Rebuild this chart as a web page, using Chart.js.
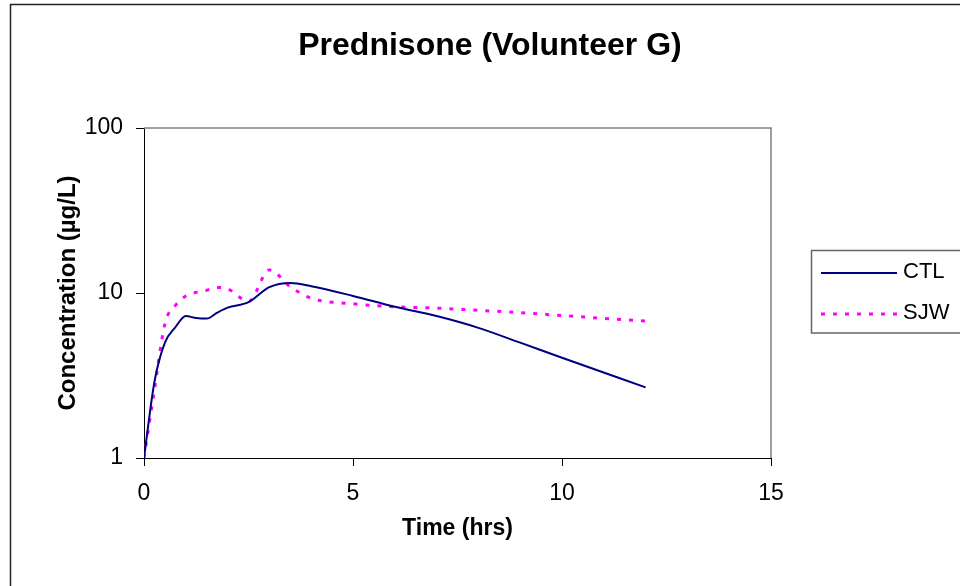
<!DOCTYPE html>
<html>
<head>
<meta charset="utf-8">
<title>Prednisone (Volunteer G)</title>
<script src="https://cdn.jsdelivr.net/npm/chart.js@4.4.1/dist/chart.umd.min.js"></script>
<style>
    body { margin: 0; background: #ffffff; }
    #grafico { display: block; }
</style>
</head>
<body>
<canvas id="grafico" width="960" height="586"></canvas>
<script>
// Datos (tiempo en horas, concentración en µg/L)
const tiempos = [0, 0.25, 0.5, 0.75, 1, 1.25, 1.5, 1.75, 2, 2.5, 3, 3.5, 4, 5, 6, 7, 8, 9, 10, 12];
const concentracionCTL = [1.0, 2.9, 5.0, 6.2, 7.25, 7.05, 7.0, 7.6, 8.15, 8.8, 10.85, 11.5, 11.0, 9.6, 8.25, 7.25, 6.15, 5.0, 4.05, 2.68];
const concentracionSJW = [1.0, 2.6, 6.5, 8.4, 9.6, 10.1, 10.4, 10.8, 10.6, 8.9, 13.8, 10.9, 9.3, 8.6, 8.25, 8.1, 7.85, 7.6, 7.3, 6.75];
const nombresSeries = ['CTL', 'SJW'];
const marcasX = [0, 5, 10, 15];
const marcasY = [1, 10, 100];

const fuente = '"Liberation Sans", Arial, sans-serif';

function armarPuntos(valores) {
    return tiempos.map((t, i) => ({ x: t, y: valores[i] }));
}

// Marco exterior, borde gris del área de trazado y leyenda con recuadro
const marcoPlugin = {
    id: 'marco',
    beforeDraw(chart) {
        const ctx = chart.ctx;
        ctx.save();
        ctx.strokeStyle = '#222222';
        ctx.lineWidth = 1.5;
        ctx.strokeRect(10.5, 4.5, 1200, 1200);
        ctx.restore();
    },
    beforeDatasetsDraw(chart) {
        const { ctx, chartArea } = chart;
        ctx.save();
        ctx.strokeStyle = '#808080';
        ctx.lineWidth = 1.5;
        ctx.beginPath();
        ctx.moveTo(chartArea.left, chartArea.top);
        ctx.lineTo(chartArea.right, chartArea.top);
        ctx.lineTo(chartArea.right, chartArea.bottom);
        ctx.stroke();
        ctx.restore();
    },
    afterDraw(chart) {
        const ctx = chart.ctx;
        ctx.save();
        ctx.strokeStyle = '#666666';
        ctx.lineWidth = 1.5;
        ctx.strokeRect(811.5, 250.5, 300, 82.5);

        chart.data.datasets.forEach((ds, i) => {
            const y = 273 + i * 41;
            ctx.strokeStyle = ds.borderColor;
            ctx.lineWidth = ds.borderWidth;
            ctx.setLineDash(ds.borderDash || []);
            ctx.beginPath();
            ctx.moveTo(821, y);
            ctx.lineTo(897, y);
            ctx.stroke();
            ctx.setLineDash([]);
            ctx.fillStyle = '#000000';
            ctx.font = '22px ' + fuente;
            ctx.textAlign = 'left';
            ctx.textBaseline = 'middle';
            ctx.fillText(ds.label, 903, y - 1);
        });
        ctx.restore();
    }
};

const ctx = document.getElementById('grafico').getContext('2d');

new Chart(ctx, {
    type: 'line',
    data: {
        datasets: [{
            label: nombresSeries[0],
            data: armarPuntos(concentracionCTL),
            borderColor: '#000080',
            borderWidth: 2,
            pointRadius: 0,
            fill: false,
            cubicInterpolationMode: 'monotone'
        }, {
            label: nombresSeries[1],
            data: armarPuntos(concentracionSJW),
            borderColor: '#FF00FF',
            borderWidth: 3,
            borderDash: [4, 8],
            pointRadius: 0,
            fill: false,
            cubicInterpolationMode: 'monotone'
        }]
    },
    options: {
        responsive: false,
        animation: false,
        events: [],
        layout: { padding: { left: 20, right: 0, top: 0, bottom: 0 } },
        plugins: {
            legend: { display: false },
            tooltip: { enabled: false },
            title: {
                display: true,
                text: 'Prednisone (Volunteer G)',
                color: '#000000',
                font: { family: fuente, size: 32, weight: 'bold' },
                padding: { top: 27.3, bottom: 62.3 }
            }
        },
        scales: {
            x: {
                type: 'linear',
                min: 0,
                max: 15,
                afterBuildTicks: (escala) => { escala.ticks = marcasX.map(v => ({ value: v })); },
                afterFit: (escala) => { escala.height = 128; },
                ticks: {
                    color: '#000000',
                    font: { family: fuente, size: 23 },
                    padding: 14,
                    maxRotation: 0,
                    autoSkip: false
                },
                grid: { drawOnChartArea: false, drawTicks: true, tickLength: 8, color: '#000000' },
                border: { color: '#000000', width: 1 },
                title: {
                    display: true,
                    text: 'Time (hrs)',
                    color: '#000000',
                    font: { family: fuente, size: 23, weight: 'bold' },
                    padding: { top: 0, bottom: 44 }
                }
            },
            y: {
                type: 'logarithmic',
                min: 1,
                max: 100,
                afterBuildTicks: (escala) => { escala.ticks = marcasY.map(v => ({ value: v })); },
                afterFit: (escala) => { escala.width = 124; },
                ticks: {
                    color: '#000000',
                    font: { family: fuente, size: 23 },
                    padding: 13,
                    callback: (valor) => String(valor)
                },
                grid: { drawOnChartArea: false, drawTicks: true, tickLength: 8, color: '#000000' },
                border: { color: '#000000', width: 1 },
                title: {
                    display: true,
                    text: 'Concentration (µg/L)',
                    color: '#000000',
                    font: { family: fuente, size: 24, weight: 'bold' },
                    padding: { top: 34, bottom: 0 }
                }
            },
            derecha: {
                type: 'linear',
                position: 'right',
                display: true,
                ticks: { display: false },
                grid: { display: false },
                border: { display: false },
                afterFit: (escala) => { escala.width = 189; }
            }
        }
    },
    plugins: [marcoPlugin]
});
</script>
</body>
</html>
